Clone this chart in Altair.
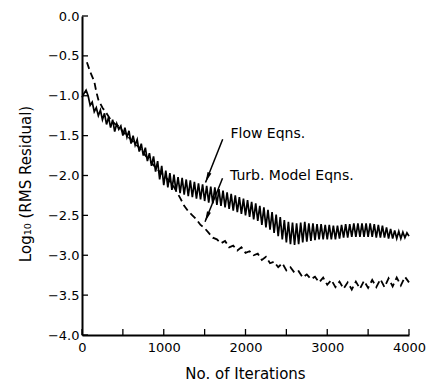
import altair as alt
import pandas as pd

# ---------------- data ----------------
flow_iter = list(range(0, 4001, 25))
flow_res = [
    -1.02, -0.97, -0.93, -1.00, -1.12, -1.08, -1.20, -1.15, -1.25, -1.18,
    -1.30, -1.22, -1.36, -1.27, -1.40, -1.30, -1.45, -1.35, -1.42, -1.38,
    -1.50, -1.40, -1.52, -1.44, -1.60, -1.50, -1.62, -1.55, -1.70, -1.60,
    -1.75, -1.65, -1.82, -1.72, -1.88, -1.76, -1.95, -1.82, -2.05, -1.88,
    -2.12, -1.94, -2.15, -1.97, -2.18, -1.99, -2.20, -2.02, -2.22, -2.03,
    -2.24, -2.05, -2.26, -2.06, -2.27, -2.08, -2.29, -2.10, -2.30, -2.11,
    -2.32, -2.13, -2.34, -2.14, -2.35, -2.15, -2.37, -2.17, -2.38, -2.19,
    -2.40, -2.21, -2.42, -2.23, -2.44, -2.25, -2.46, -2.27, -2.48, -2.29,
    -2.50, -2.31, -2.52, -2.33, -2.55, -2.35, -2.57, -2.38, -2.62, -2.40,
    -2.65, -2.43, -2.68, -2.46, -2.72, -2.49, -2.76, -2.52, -2.80, -2.56,
    -2.84, -2.58, -2.86, -2.59, -2.87, -2.60, -2.86, -2.59, -2.84, -2.58,
    -2.83, -2.60, -2.82, -2.60, -2.81, -2.61, -2.80, -2.61, -2.80, -2.62,
    -2.80, -2.62, -2.80, -2.63, -2.80, -2.63, -2.79, -2.62, -2.78, -2.61,
    -2.78, -2.61, -2.77, -2.60, -2.77, -2.60, -2.77, -2.60, -2.77, -2.60,
    -2.77, -2.60, -2.77, -2.61, -2.78, -2.62, -2.78, -2.63, -2.78, -2.65,
    -2.79, -2.67, -2.79, -2.69, -2.79, -2.70, -2.79, -2.71, -2.78, -2.72,
    -2.76,
]

turb_iter = [
    60, 100, 150, 175, 200, 250, 300, 350, 400, 450, 500, 600, 700, 800, 900,
    1000, 1100, 1200, 1250,
    1300, 1350, 1400, 1450, 1500, 1550, 1600, 1650, 1700, 1750, 1800, 1850,
    1900, 1950, 2000, 2050, 2100, 2150, 2200, 2250, 2300, 2350, 2400, 2450,
    2500, 2550, 2600, 2650, 2700, 2750, 2800, 2850, 2900, 2950, 3000, 3050,
    3100, 3150, 3200, 3250, 3300, 3350, 3400, 3450, 3500, 3550, 3600, 3650,
    3700, 3750, 3800, 3850, 3900, 3950, 4000,
]
turb_res = [
    -0.58, -0.70, -0.82, -0.95, -1.05, -1.15, -1.22, -1.30, -1.35, -1.38,
    -1.45, -1.55, -1.65, -1.78, -1.90, -2.00, -2.10, -2.28, -2.38,
    -2.45, -2.50, -2.55, -2.62, -2.66, -2.72, -2.78, -2.80, -2.85, -2.82,
    -2.90, -2.88, -2.94, -2.90, -2.97, -2.95, -3.00, -2.98, -3.06, -3.02,
    -3.10, -3.08, -3.15, -3.10, -3.19, -3.15, -3.22, -3.20, -3.28, -3.24,
    -3.30, -3.27, -3.34, -3.28, -3.37, -3.31, -3.40, -3.33, -3.42, -3.34,
    -3.43, -3.33, -3.42, -3.32, -3.41, -3.31, -3.40, -3.30, -3.40, -3.29,
    -3.39, -3.28, -3.38, -3.27, -3.34,
]

y_tick_values = [0.0, -0.5, -1.0, -1.5, -2.0, -2.5, -3.0, -3.5, -4.0]
x_tick_values = [0, 500, 1000, 1500, 2000, 2500, 3000, 3500, 4000]
x_label_values = [0, 1000, 2000, 3000, 4000]

note_text = ["Flow Eqns.", "Turb. Model Eqns."]
note_x = [1816, 1810]
note_y = [-1.534, -2.056]

arrow_from_x = [1721, 1719]
arrow_from_y = [-1.546, -2.035]
arrow_to_x = [1511, 1505]
arrow_to_y = [-2.088, -2.579]

assert len(flow_iter) == len(flow_res)
assert len(turb_iter) == len(turb_res)

# ---------------- tables ----------------
flow_df = pd.DataFrame({"it": flow_iter, "res": flow_res})
turb_df = pd.DataFrame({"it": turb_iter, "res": turb_res})
ytick_df = pd.DataFrame({"res": y_tick_values})
xtick_df = pd.DataFrame({"it": x_tick_values})
note_df = pd.DataFrame({"it": note_x, "res": note_y, "t": note_text})
arrow_df = pd.DataFrame({"it": arrow_from_x, "res": arrow_from_y,
                         "it2": arrow_to_x, "res2": arrow_to_y})
head_df = pd.DataFrame({"it": arrow_to_x, "res": arrow_to_y})

FONT = "DejaVu Sans"
W, H = 327, 319

xscale = alt.Scale(domain=[0, 4000], nice=False, zero=False)
yscale = alt.Scale(domain=[-4, 0], nice=False, zero=False)

x_axis = alt.Axis(
    values=x_label_values, format="d", title="No. of Iterations",
    grid=False, ticks=False, tickSize=0, labelPadding=16.5,
    labelBaseline="alphabetic", labelFlush=False, labelOverlap=False,
    titleX=163, titleY=43, titleBaseline="alphabetic", titleAnchor="middle",
)
y_axis = alt.Axis(
    values=y_tick_values, format=".1f", title="Log\u2081\u2080 (RMS Residual)",
    grid=False, ticks=False, tickSize=0, labelPadding=3,
    labelFlush=False, labelOverlap=False,
    titleX=-57, titleY=167.5, titleAngle=-90, titleBaseline="middle",
    titleAlign="center",
)


def X():
    return alt.X("it:Q", scale=xscale, axis=x_axis)


def Y():
    return alt.Y("res:Q", scale=yscale, axis=y_axis)


flow = alt.Chart(flow_df).mark_line(color="black", strokeWidth=1.7).encode(
    x=X(), y=Y(),
)

turb = alt.Chart(turb_df).mark_line(
    color="black", strokeWidth=1.8, strokeDash=[7, 4]
).encode(x=X(), y=Y())

yticks = alt.Chart(ytick_df).mark_rule(color="black", strokeWidth=1.3).encode(
    y=Y(), x=alt.value(0), x2=alt.value(6),
)
xticks = alt.Chart(xtick_df).mark_rule(color="black", strokeWidth=1.3).encode(
    x=X(), y=alt.value(H), y2=alt.value(H - 6),
)

notes = alt.Chart(note_df).mark_text(
    align="left", baseline="alphabetic", font=FONT, fontSize=14, color="black"
).encode(x=X(), y=Y(), text="t:N")

arrows = alt.Chart(arrow_df).mark_rule(color="black", strokeWidth=1.5).encode(
    x=X(), y=Y(), x2="it2:Q", y2="res2:Q",
)
heads = alt.Chart(head_df).mark_point(
    shape="M0,0L0.4,2L-0.4,2Z", filled=True, color="black", opacity=1,
    size=110, angle=202, strokeWidth=0,
).encode(x=X(), y=Y())

chart = alt.layer(flow, turb, yticks, xticks, arrows, heads, notes).properties(
    width=W, height=H,
    padding={"left": 82, "top": 16, "right": 21, "bottom": 53},
    autosize=alt.AutoSizeParams(type="none"),
    background="white",
).configure_view(stroke=None).configure_axis(
    domainColor="black", domainWidth=2,
    labelColor="black", labelFont=FONT, labelFontSize=13,
    titleColor="black", titleFont=FONT, titleFontSize=15, titleFontWeight="normal",
)

chart.save("out.html", embed_options={"renderer": "svg", "actions": False})
